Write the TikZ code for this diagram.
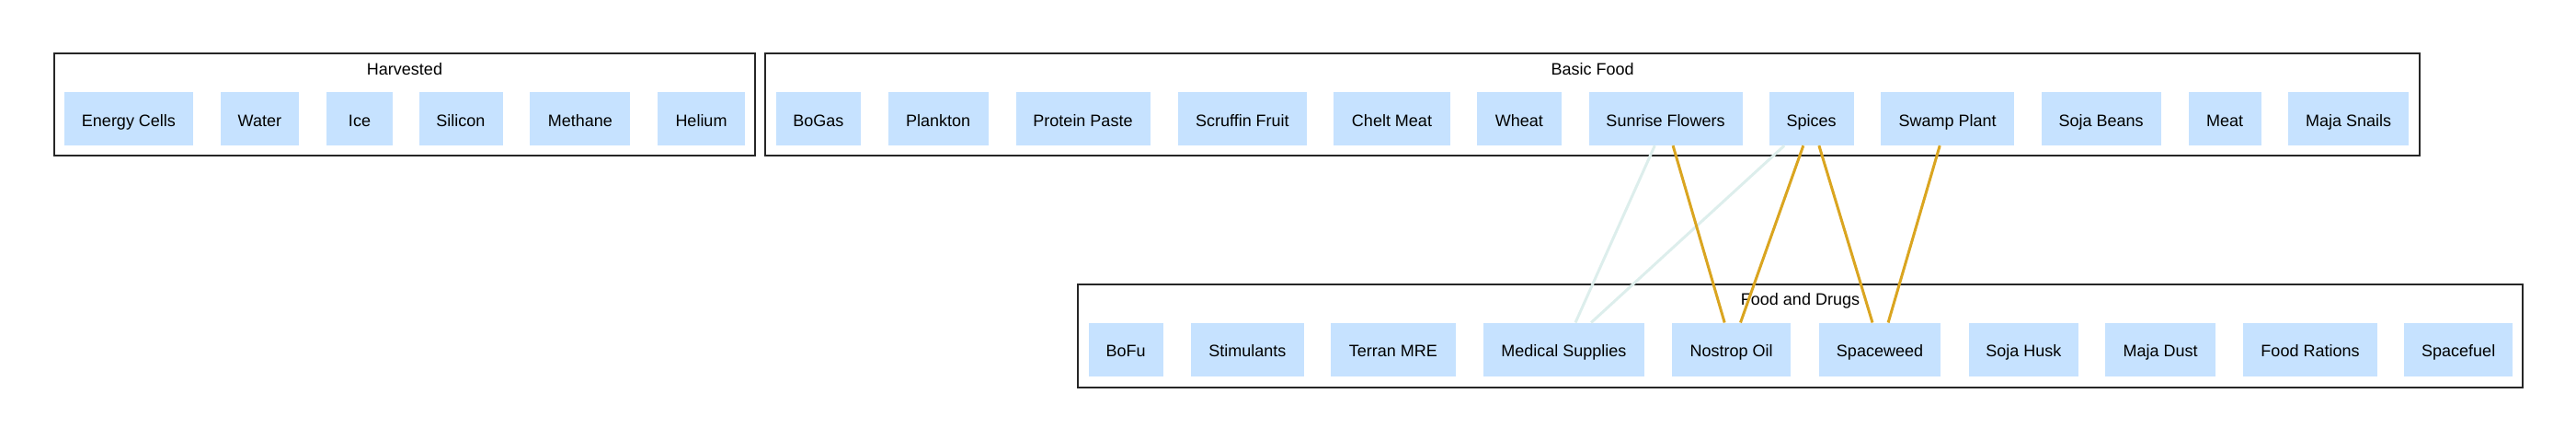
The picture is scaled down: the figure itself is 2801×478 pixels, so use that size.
\documentclass[tikz,border=0pt]{standalone}
\usepackage{fontspec}
\setmainfont{Liberation Sans}
\definecolor{nodefill}{HTML}{C6E2FF}
\definecolor{gold}{HTML}{DAA520}
\definecolor{pale}{HTML}{DDEEEC}
\begin{document}
\begin{tikzpicture}[x=1pt,y=-1pt,
  item/.style={fill=nodefill, draw=none, minimum height=58pt, inner sep=0pt, text height=16.6pt, text depth=0.4pt, font=\fontsize{18}{21}\selectfont},
  cluster/.style={draw=black!85, line width=2pt},
  clabel/.style={font=\fontsize{18}{21}\selectfont, inner sep=0pt, text height=13.5pt, text depth=3.5pt},
  goldedge/.style={draw=gold, line width=3pt},
  paleedge/.style={draw=pale, line width=3pt}]
\path[use as bounding box] (0,0) rectangle (2801,478);
% clusters
\draw[cluster] (58.5,58.5) rectangle (821.4,169);
\node[clabel] (lh) at (440,76.7) {Harvested};
\draw[cluster] (832.3,58.5) rectangle (2631,169);
\node[clabel] (lb) at (1731.6,76.7) {Basic Food};
\draw[cluster] (1172.3,309) rectangle (2742.8,421.4);
\node[clabel] (lf) at (1957.5,327) {Food and Drugs};
% Harvested
\node[item, minimum width=140pt] (ec) at (140,129) {Energy Cells};
\node[item, minimum width=85.4pt] (wa) at (282.4,129) {Water};
\node[item, minimum width=71.7pt] (ic) at (391,129) {Ice};
\node[item, minimum width=91pt] (si) at (501,129) {Silicon};
\node[item, minimum width=109pt] (me) at (630.8,129) {Methane};
\node[item, minimum width=95pt] (he) at (762.5,129) {Helium};
% Basic Food
\node[item, minimum width=92.5pt] (bg) at (889.8,129) {BoGas};
\node[item, minimum width=108.6pt] (pl) at (1020.2,129) {Plankton};
\node[item, minimum width=146pt] (pp) at (1177.5,129) {Protein Paste};
\node[item, minimum width=140.8pt] (sf) at (1350.9,129) {Scruffin Fruit};
\node[item, minimum width=127pt] (cm) at (1513.5,129) {Chelt Meat};
\node[item, minimum width=91.2pt] (wh) at (1651.9,129) {Wheat};
\node[item, minimum width=167pt] (sun) at (1811,129) {Sunrise Flowers};
\node[item, minimum width=91.8pt] (spi) at (1969.7,129) {Spices};
\node[item, minimum width=144.6pt] (swp) at (2117.7,129) {Swamp Plant};
\node[item, minimum width=130pt] (sb) at (2284.6,129) {Soja Beans};
\node[item, minimum width=79.3pt] (mt) at (2419.2,129) {Meat};
\node[item, minimum width=131.8pt] (ms) at (2553.5,129) {Maja Snails};
% Food and Drugs
\node[item, minimum width=81pt] (bf) at (1224.2,379.7) {BoFu};
\node[item, minimum width=122.6pt] (st) at (1356.4,379.7) {Stimulants};
\node[item, minimum width=135.8pt] (tm) at (1514.9,379.7) {Terran MRE};
\node[item, minimum width=175pt] (med) at (1700.3,379.7) {Medical Supplies};
\node[item, minimum width=129pt] (no) at (1882.7,379.7) {Nostrop Oil};
\node[item, minimum width=131.5pt] (sw) at (2044,379.7) {Spaceweed};
\node[item, minimum width=119.5pt] (sh) at (2200.3,379.7) {Soja Husk};
\node[item, minimum width=120.4pt] (md) at (2349.2,379.7) {Maja Dust};
\node[item, minimum width=145.3pt] (fr) at (2512,379.7) {Food Rations};
\node[item, minimum width=118.4pt] (sfu) at (2673.2,379.7) {Spacefuel};
% edges
\draw[paleedge] ([xshift=-11.7pt]sun.south) -- ([xshift=12.7pt]med.north);
\draw[paleedge] ([xshift=-29.5pt]spi.south) -- ([xshift=29.8pt]med.north);
\draw[goldedge] ([xshift=8.1pt]sun.south) -- ([xshift=-7.5pt]no.north);
\draw[goldedge] ([xshift=-8.9pt]spi.south) -- ([xshift=9.8pt]no.north);
\draw[goldedge] ([xshift=8.2pt]spi.south) -- ([xshift=-8pt]sw.north);
\draw[goldedge] ([xshift=-8.5pt]swp.south) -- ([xshift=9.1pt]sw.north);
\end{tikzpicture}
\end{document}
